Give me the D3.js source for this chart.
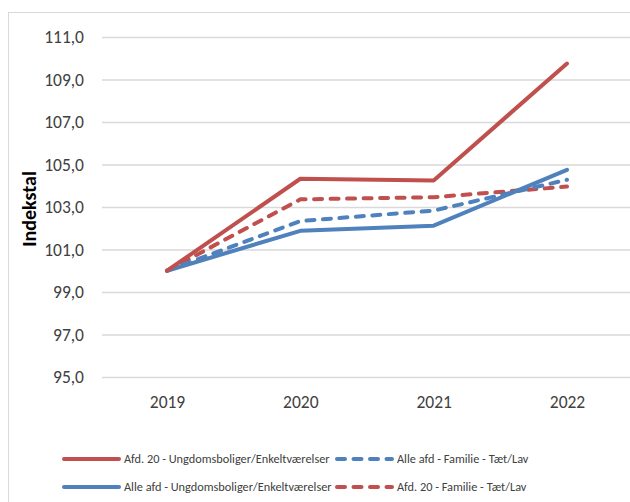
<!DOCTYPE html>
<html>
<head>
<meta charset="utf-8">
<script src="https://cdn.jsdelivr.net/npm/d3@7"></script>
<style>
  body { margin: 0; background: #fff; }
  svg { display: block; }
  text { font-family: Calibri, Carlito, Lato, sans-serif; fill: #404040; }
</style>
</head>
<body>
<div id="chart"></div>
<script>
// data
var years = ['2019', '2020', '2021', '2022'];
var yTicks = [95, 97, 99, 101, 103, 105, 107, 109, 111];
var afd20Ungdom = [100, 104.33, 104.25, 109.75];
var alleUngdom = [100, 101.88, 102.12, 104.75];
var alleFamilie = [100, 102.34, 102.83, 104.28];
var afd20Familie = [100, 103.36, 103.46, 103.96];

var red = '#C0504D', blue = '#4F81BD';

var series = [
    {name: 'Afd. 20 - Familie - Tæt/Lav', values: afd20Familie, color: red, dashed: true},
    {name: 'Alle afd - Familie - Tæt/Lav', values: alleFamilie, color: blue, dashed: true},
    {name: 'Alle afd - Ungdomsboliger/Enkeltværelser', values: alleUngdom, color: blue, dashed: false},
    {name: 'Afd. 20 - Ungdomsboliger/Enkeltværelser', values: afd20Ungdom, color: red, dashed: false}
];
// legend order (row by row)
var legendOrder = [3, 1, 2, 0];

var w = 630, h = 502;
var svg = d3.select('#chart').append('svg')
    .attr('width', w)
    .attr('height', h);

// outer chart border (cropped at right / bottom)
svg.append('rect')
    .attr('x', 8.5).attr('y', 12.5)
    .attr('width', 700).attr('height', 600)
    .attr('fill', 'none')
    .attr('stroke', '#d9d9d9')
    .attr('stroke-width', 1);

var x = d3.scalePoint().domain(years).range([167, 567]);
var y = d3.scaleLinear().domain([95, 111]).range([377, 37]);

// gridlines
svg.append('g')
    .attr('transform', 'translate(102,0)')
    .call(d3.axisRight(y).tickValues(yTicks).tickSize(560).tickFormat(''))
    .call(function (g) {
        g.select('.domain').remove();
        g.selectAll('line').attr('stroke', '#d9d9d9').attr('stroke-width', 1.3);
    });

// y tick labels
svg.append('g')
    .attr('transform', 'translate(84,0)')
    .call(d3.axisLeft(y).tickValues(yTicks).tickSize(0).tickPadding(0)
        .tickFormat(function (d) { return d3.format('.1f')(d).replace('.', ','); }))
    .call(function (g) {
        g.select('.domain').remove();
        g.selectAll('text').attr('font-size', '17.5px')
            .style('font-family', 'Calibri, Carlito, Lato, sans-serif').attr('fill', '#404040');
    });

// x labels
svg.append('g')
    .attr('transform', 'translate(0,395)')
    .call(d3.axisBottom(x).tickSize(0).tickPadding(0))
    .call(function (g) {
        g.select('.domain').remove();
        g.selectAll('text').attr('font-size', '17.5px').attr('dy', '0.72em')
            .style('font-family', 'Calibri, Carlito, Lato, sans-serif').attr('fill', '#404040');
    });

// y title
svg.append('text')
    .attr('transform', 'translate(36,209) rotate(-90)')
    .attr('text-anchor', 'middle')
    .attr('font-size', '20px')
    .attr('font-weight', 'bold')
    .style('fill', '#000')
    .text('Indekstal');

var line = d3.line()
    .x(function (d, i) { return x(years[i]); })
    .y(function (d) { return y(d); });

svg.selectAll('path.series')
    .data(series)
    .enter()
    .append('path')
    .attr('class', 'series')
    .attr('d', function (d) { return line(d.values); })
    .attr('fill', 'none')
    .attr('stroke', function (d) { return d.color; })
    .attr('stroke-width', 4)
    .attr('stroke-linecap', 'round')
    .attr('stroke-linejoin', 'round')
    .attr('stroke-dasharray', function (d) { return d.dashed ? '8,8.5' : null; });

// legend
var legX = [64, 337], legY = [459, 487];
var leg = svg.selectAll('g.leg')
    .data(legendOrder.map(function (k) { return series[k]; }))
    .enter()
    .append('g')
    .attr('class', 'leg')
    .attr('transform', function (d, i) {
        return 'translate(' + legX[i % 2] + ',' + legY[Math.floor(i / 2)] + ')';
    });
leg.append('line')
    .attr('x1', 0).attr('x2', 55)
    .attr('stroke', function (d) { return d.color; })
    .attr('stroke-width', 4)
    .attr('stroke-linecap', 'round')
    .attr('stroke-dasharray', function (d) { return d.dashed ? '8,8.5' : null; });
leg.append('text')
    .attr('x', 60)
    .attr('dy', '0.35em')
    .attr('font-size', '12.3px')
    .text(function (d) { return d.name; });
</script>
</body>
</html>
